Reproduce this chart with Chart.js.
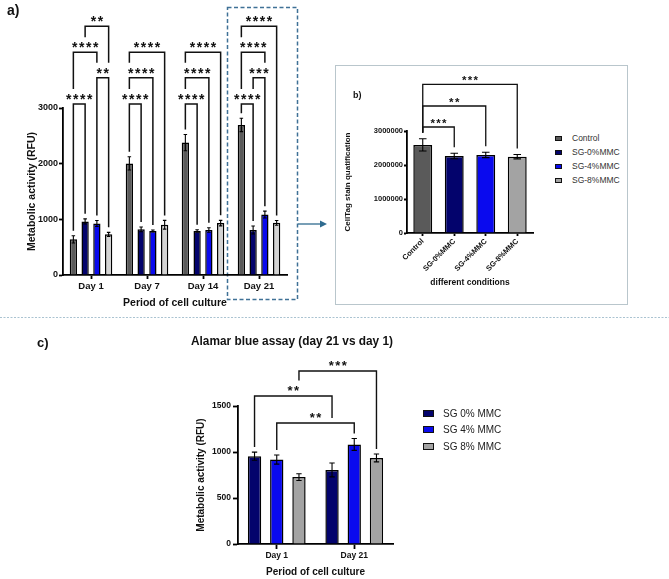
<!DOCTYPE html>
<html>
<head>
<meta charset="utf-8">
<script src="https://cdn.jsdelivr.net/npm/chart.js@4.4.1/dist/chart.umd.min.js"></script>
<style>
  html, body { margin: 0; padding: 0; background: #fff; }
  body { width: 669px; height: 579px; position: relative; overflow: hidden; font-family: 'Liberation Sans', Arial, sans-serif; color: #111; }
  canvas, svg, .lbl, .legend { position: absolute; }
  .lbl { font-weight: bold; }
  .legend .row { display: flex; align-items: center; white-space: nowrap; }
  .legend .sw { display: inline-block; box-sizing: border-box; }
</style>
</head>
<body>
<svg width="669" height="579" style="left:0;top:0">
  <rect x="227.5" y="7.5" width="70" height="292" fill="none" stroke="#3f7196" stroke-width="1.5" stroke-dasharray="4 2.5"/>
  <rect x="335.5" y="65.5" width="292" height="239" fill="none" stroke="#b9c6cc" stroke-width="1"/>
  <line x1="298" y1="224" x2="321" y2="224" stroke="#2f6b8f" stroke-width="1.3"/>
  <polygon points="327,224 320,220.5 320,227.5" fill="#2f6b8f"/>
  <line x1="0" y1="317.5" x2="669" y2="317.5" stroke="#aac3d1" stroke-width="1" stroke-dasharray="2 1.5"/>
</svg>

<canvas id="chartA" width="292" height="312" style="left:0;top:0"></canvas>
<canvas id="chartB" width="200" height="224" style="left:336px;top:66px"></canvas>
<canvas id="chartC" width="443" height="259" style="left:0;top:320px"></canvas>

<div class="lbl" style="left:7px;top:2px;font-size:14px;line-height:16px">a)</div>
<div class="lbl" style="left:353px;top:90px;font-size:9px;line-height:10px">b)</div>
<div class="lbl" style="left:37px;top:335px;font-size:13px;line-height:16px">c)</div>

<div id="legendB" class="legend" style="left:555px;top:131px"></div>
<div id="legendC" class="legend" style="left:423px;top:405px"></div>

<script>
  // panel a: metabolic activity per day
  const days = ['Day 1', 'Day 7', 'Day 14', 'Day 21'];
  const controlA = [641, 2005, 2378, 2695];
  const sg0A = [962, 820, 792, 808];
  const sg4A = [926, 790, 808, 1085];
  const sg8A = [730, 903, 932, 937];
  const controlErrA = [65, 120, 145, 120];
  const sg0ErrA = [47, 42, 22, 72];
  const sg4ErrA = [54, 18, 40, 62];
  const sg8ErrA = [36, 78, 50, 42];

  // panel b: CellTag stain
  const conditions = ['Control', 'SG-0%MMC', 'SG-4%MMC', 'SG-8%MMC'];
  const cellTag = [2590000, 2265000, 2295000, 2245000];
  const cellTagErr = [180000, 80000, 78000, 65000];

  // panel c: alamar blue day 1 vs day 21
  const daysC = ['Day 1', 'Day 21'];
  const seriesC = ['SG 0% MMC', 'SG 4% MMC', 'SG 8% MMC'];
  const sg0C = [955, 805];
  const sg4C = [918, 1082];
  const sg8C = [727, 936];
  const sg0ErrC = [44, 75];
  const sg4ErrC = [50, 64];
  const sg8ErrC = [36, 43];

  const colControl = '#5a5a5a';
  const colSg0 = '#03036c';
  const colSg4 = '#0a0aee';
  const colSg8Light = '#d4d4d4';
  const colSg8 = '#a3a3a3';

  // significance brackets: [dataset, index] ends, level in data units
  const sigA = [
    { from: [0, 0], to: [1, 0], level: 3070, stars: '****' },
    { from: [2, 0], to: [3, 0], level: 3545, stars: '**' },
    { from: [0, 0], to: [2, 0], level: 4000, stars: '****' },
    { from: [1, 0], to: [3, 0], level: 4470, stars: '**' },
    { from: [0, 1], to: [1, 1], level: 3070, stars: '****' },
    { from: [0, 1], to: [2, 1], level: 3545, stars: '****' },
    { from: [0, 1], to: [3, 1], level: 4000, stars: '****' },
    { from: [0, 2], to: [1, 2], level: 3070, stars: '****' },
    { from: [0, 2], to: [2, 2], level: 3545, stars: '****' },
    { from: [0, 2], to: [3, 2], level: 4000, stars: '****' },
    { from: [0, 3], to: [1, 3], level: 3070, stars: '****' },
    { from: [1, 3], to: [2, 3], level: 3545, stars: '***' },
    { from: [0, 3], to: [2, 3], level: 4000, stars: '****' },
    { from: [0, 3], to: [3, 3], level: 4470, stars: '****' },
  ];
  const sigB = [
    { from: [0, 0], to: [0, 1], level: 3118000, stars: '***' },
    { from: [0, 0], to: [0, 2], level: 3735000, stars: '**' },
    { from: [0, 0], to: [0, 3], level: 4374000, stars: '***' },
  ];
  const sigC = [
    { from: [2, 0], to: [2, 1], level: 1880, stars: '***' },
    { from: [0, 0], to: [0, 1], level: 1609, stars: '**' },
    { from: [1, 0], to: [1, 1], level: 1315, stars: '**' },
  ];

  const FONT = "'Liberation Sans', Arial, sans-serif";
  Chart.defaults.font.family = FONT;
  Chart.defaults.color = '#111';

  const errorBars = {
    id: 'errorBars',
    afterDatasetsDraw(chart) {
      const ctx = chart.ctx;
      const y = chart.scales.y;
      ctx.save();
      ctx.strokeStyle = '#000';
      ctx.lineWidth = 1.1;
      chart.data.datasets.forEach(function (ds, di) {
        chart.getDatasetMeta(di).data.forEach(function (bar, i) {
          const v = ds.data[i];
          const e = ds.errors[i];
          const yt = y.getPixelForValue(v + e);
          const yb = y.getPixelForValue(v - e);
          const cw = Math.max(3.5, bar.width * 0.4) / 2;
          ctx.beginPath();
          ctx.moveTo(bar.x, yb);
          ctx.lineTo(bar.x, yt);
          ctx.moveTo(bar.x - cw, yt);
          ctx.lineTo(bar.x + cw, yt);
          ctx.moveTo(bar.x - cw, yb);
          ctx.lineTo(bar.x + cw, yb);
          ctx.stroke();
        });
      });
      ctx.restore();
    },
  };

  const sigPlugin = function (items, st) {
    return {
      id: 'sig',
      afterDatasetsDraw(chart) {
        const ctx = chart.ctx;
        const y = chart.scales.y;
        const sets = chart.data.datasets;
        const topOf = (p) => y.getPixelForValue(sets[p[0]].data[p[1]] + sets[p[0]].errors[p[1]]);
        const xOf = (p) => chart.getDatasetMeta(p[0]).data[p[1]].x;

        const br = items.map(function (b) {
          const x1 = xOf(b.from);
          const x2 = xOf(b.to);
          return {
            b: b, x1: x1, x2: x2, mid: (x1 + x2) / 2,
            yl: y.getPixelForValue(b.level),
            half: b.stars.length * st.spacing / 2 + 2,
          };
        });

        /* leg stops above lower brackets it would cross */
        const legEnd = function (x, barTop, me) {
          let end = barTop - st.gap;
          br.forEach(function (o) {
            if (o === me || o.yl <= me.yl) return;
            if (Math.abs(x - o.mid) < o.half) {
              end = Math.min(end, o.yl - st.off - 7);
            } else if (x > o.x1 + 1 && x < o.x2 - 1) {
              end = Math.min(end, o.yl - 5);
            }
          });
          return end;
        };

        ctx.save();
        ctx.strokeStyle = '#111';
        ctx.fillStyle = '#111';
        ctx.lineWidth = st.lw;
        ctx.font = 'bold ' + st.font + 'px ' + FONT;
        ctx.textAlign = 'center';
        ctx.textBaseline = 'alphabetic';
        br.forEach(function (o) {
          const e1 = legEnd(o.x1, topOf(o.b.from), o);
          const e2 = legEnd(o.x2, topOf(o.b.to), o);
          ctx.beginPath();
          ctx.moveTo(o.x1, e1);
          ctx.lineTo(o.x1, o.yl);
          ctx.lineTo(o.x2, o.yl);
          ctx.lineTo(o.x2, e2);
          ctx.stroke();
          const n = o.b.stars.length;
          for (let k = 0; k < n; k++) {
            ctx.fillText('*', o.mid + (k - (n - 1) / 2) * st.spacing, o.yl - st.off + st.font * 0.57);
          }
        });
        ctx.restore();
      },
    };
  };

  const axisStyle = function (tickLen) {
    return {
      grid: { display: true, drawOnChartArea: false, offset: false, tickLength: tickLen, tickColor: '#000', tickWidth: 1.8, color: '#000' },
      border: { color: '#000', width: 1.8 },
    };
  };

  const barStyle = { borderColor: '#000', borderWidth: 1.5 };

  // ---- panel a ----
  new Chart(document.getElementById('chartA'), {
    type: 'bar',
    data: {
      labels: days,
      datasets: [
        { label: 'Control', data: controlA, errors: controlErrA, backgroundColor: colControl, ...barStyle },
        { label: 'SG-0%MMC', data: sg0A, errors: sg0ErrA, backgroundColor: colSg0, ...barStyle },
        { label: 'SG-4%MMC', data: sg4A, errors: sg4ErrA, backgroundColor: colSg4, ...barStyle },
        { label: 'SG-8%MMC', data: sg8A, errors: sg8ErrA, backgroundColor: colSg8Light, ...barStyle },
      ],
    },
    options: {
      responsive: false,
      animation: false,
      categoryPercentage: 0.84,
      barPercentage: 0.62,
      layout: { padding: { left: 22, top: 108, right: 5, bottom: 0 } },
      plugins: { legend: { display: false }, tooltip: { enabled: false } },
      scales: {
        x: {
          ...axisStyle(4),
          ticks: { font: { size: 9.5, weight: 'bold' }, padding: 2 },
          title: { display: true, text: 'Period of cell culture', font: { size: 10.5, weight: 'bold' }, padding: { top: 0, bottom: 3 } },
          afterFit: function (s) { s.height = 37; },
        },
        y: {
          ...axisStyle(4),
          min: 0,
          max: 3000,
          ticks: { stepSize: 1000, callback: (v) => String(v), font: { size: 9, weight: 'bold' }, padding: 1 },
          title: { display: true, text: 'Metabolic activity (RFU)', font: { size: 10.5, weight: 'bold' }, padding: { top: 4, bottom: 0 } },
          afterFit: function (s) { s.width = 41; },
        },
      },
    },
    plugins: [errorBars, sigPlugin(sigA, { spacing: 7, font: 14, off: 8, gap: 5, lw: 1.5 })],
  });

  // ---- panel b ----
  const colorsB = [colControl, colSg0, colSg4, colSg8];
  new Chart(document.getElementById('chartB'), {
    type: 'bar',
    data: {
      labels: conditions,
      datasets: [
        { label: 'CellTag', data: cellTag, errors: cellTagErr, backgroundColor: colorsB, ...barStyle },
      ],
    },
    options: {
      responsive: false,
      animation: false,
      categoryPercentage: 1,
      barPercentage: 0.6,
      layout: { padding: { left: 4, top: 65, right: 3, bottom: 0 } },
      plugins: { legend: { display: false }, tooltip: { enabled: false } },
      scales: {
        x: {
          ...axisStyle(3),
          ticks: { font: { size: 7.5, weight: 'bold' }, minRotation: 45, maxRotation: 45, padding: 1, autoSkip: false },
          title: { display: true, text: 'different conditions', font: { size: 8.5, weight: 'bold' }, padding: { top: 0, bottom: 2 } },
          afterFit: function (s) { s.height = 57; },
        },
        y: {
          ...axisStyle(3),
          min: 0,
          max: 3000000,
          ticks: { stepSize: 1000000, callback: (v) => String(v), font: { size: 7.5, weight: 'bold' }, padding: 1 },
          title: { display: true, text: 'CellTag stain quatification', font: { size: 8, weight: 'bold' }, padding: { top: 3, bottom: 0 } },
          afterFit: function (s) { s.width = 67; },
        },
      },
    },
    plugins: [errorBars, sigPlugin(sigB, { spacing: 5.8, font: 11.5, off: 7, gap: 6, lw: 1.3 })],
  });

  // ---- panel c ----
  new Chart(document.getElementById('chartC'), {
    type: 'bar',
    data: {
      labels: daysC,
      datasets: [
        { label: seriesC[0], data: sg0C, errors: sg0ErrC, backgroundColor: colSg0, ...barStyle },
        { label: seriesC[1], data: sg4C, errors: sg4ErrC, backgroundColor: colSg4, ...barStyle },
        { label: seriesC[2], data: sg8C, errors: sg8ErrC, backgroundColor: colSg8, ...barStyle },
      ],
    },
    options: {
      responsive: false,
      animation: false,
      categoryPercentage: 0.86,
      barPercentage: 0.6,
      layout: { padding: { left: 191, top: 0, right: 50, bottom: 0 } },
      plugins: {
        legend: { display: false },
        tooltip: { enabled: false },
        title: {
          display: true,
          text: 'Alamar blue assay (day 21 vs day 1)',
          font: { size: 12, weight: 'bold' },
          color: '#111',
          padding: { top: 14, bottom: 57.6 },
        },
      },
      scales: {
        x: {
          ...axisStyle(5),
          ticks: { font: { size: 8.5, weight: 'bold' }, padding: 2 },
          title: { display: true, text: 'Period of cell culture', font: { size: 10, weight: 'bold' }, padding: { top: 0, bottom: 1 } },
          afterFit: function (s) { s.height = 35; },
        },
        y: {
          ...axisStyle(5),
          min: 0,
          max: 1500,
          ticks: { stepSize: 500, callback: (v) => String(v), font: { size: 8.5, weight: 'bold' }, padding: 2 },
          title: { display: true, text: 'Metabolic activity (RFU)', font: { size: 10, weight: 'bold' }, padding: { top: 4, bottom: 0 } },
          afterFit: function (s) { s.width = 47; },
        },
      },
    },
    plugins: [errorBars, sigPlugin(sigC, { spacing: 6.5, font: 13, off: 8.5, gap: 5, lw: 1.4 })],
  });

  // ---- legends ----
  const buildLegend = function (el, names, colors, st) {
    names.forEach(function (name, i) {
      const row = document.createElement('div');
      row.className = 'row';
      row.style.height = st.rowH + 'px';
      const sw = document.createElement('span');
      sw.className = 'sw';
      sw.style.width = st.boxW + 'px';
      sw.style.height = st.boxH + 'px';
      sw.style.background = colors[i];
      sw.style.border = st.border + 'px solid #111';
      sw.style.marginRight = st.gap + 'px';
      const txt = document.createElement('span');
      txt.textContent = name;
      txt.style.fontSize = st.size + 'px';
      txt.style.color = st.color;
      row.appendChild(sw);
      row.appendChild(txt);
      el.appendChild(row);
    });
  };

  buildLegend(document.getElementById('legendB'), conditions, colorsB,
    { rowH: 14, boxW: 7, boxH: 5, border: 1, gap: 10, size: 8.5, color: '#333' });
  buildLegend(document.getElementById('legendC'), seriesC, [colSg0, colSg4, colSg8],
    { rowH: 16.5, boxW: 11, boxH: 7, border: 1.5, gap: 9, size: 10, color: '#222' });
</script>
</body>
</html>
